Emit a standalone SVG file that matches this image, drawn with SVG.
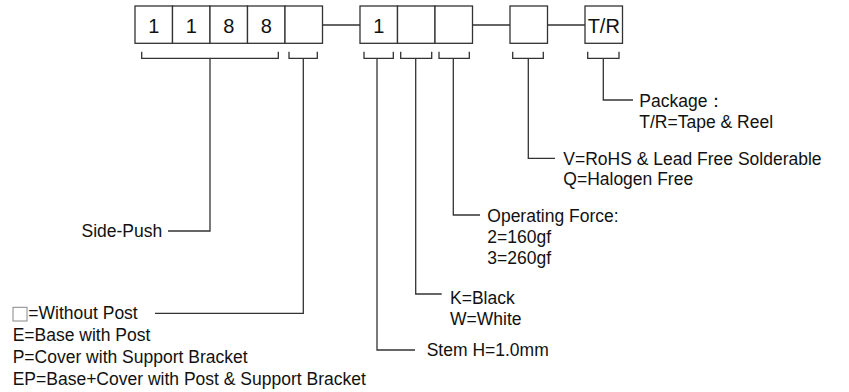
<svg xmlns="http://www.w3.org/2000/svg" width="849" height="392" viewBox="0 0 849 392">
<style>
.box{fill:#fff;stroke:#333;stroke-width:1.3}
.ln{fill:none;stroke:#333;stroke-width:1.3}
.bt{font-family:"Liberation Sans",Arial,sans-serif;font-size:20px;fill:#111;text-anchor:middle}
.lb{font-family:"Liberation Sans",Arial,sans-serif;font-size:17.5px;fill:#111}
</style>
<rect width="849" height="392" fill="#fff"/>
<g id="connectors">
<path class="ln" d="M322.5 25H360M472.5 25H510M547.5 25H585"/>
<path class="ln" d="M141.7 51.7V58.3H278.3V51.7M210 58.3V231H168"/>
<path class="ln" d="M289 51.7V58.3H317.3V51.7M303.3 58.3V313.3H155"/>
<path class="ln" d="M364 51.7V58.3H393.3V51.7M377 58.3V350H415"/>
<path class="ln" d="M400.7 51.7V58.3H431.7V51.7M415.7 58.3V294H441.7"/>
<path class="ln" d="M439 51.7V58.3H469.3V51.7M453.3 58.3V215H480"/>
<path class="ln" d="M512.7 51.7V58.3H543.3V51.7M528.3 58.3V158.3H555"/>
<path class="ln" d="M587.7 51.7V58.3H619V51.7M603.3 58.3V100H633"/>
</g>
<g id="box-1a"><rect class="box" x="135" y="6" width="37.5" height="37.3"/><text class="bt" x="153.75" y="33.3">1</text></g>
<g id="box-1b"><rect class="box" x="172.5" y="6" width="37.5" height="37.3"/><text class="bt" x="191.25" y="33.3">1</text></g>
<g id="box-8a"><rect class="box" x="210" y="6" width="37.5" height="37.3"/><text class="bt" x="228.75" y="33.3">8</text></g>
<g id="box-8b"><rect class="box" x="247.5" y="6" width="37.5" height="37.3"/><text class="bt" x="266.25" y="33.3">8</text></g>
<g id="box-post"><rect class="box" x="285" y="6" width="37.5" height="37.3"/></g>
<g id="box-stem"><rect class="box" x="360" y="6" width="37.5" height="37.3"/><text class="bt" x="378.75" y="33.3">1</text></g>
<g id="box-color"><rect class="box" x="397.5" y="6" width="37.5" height="37.3"/></g>
<g id="box-force"><rect class="box" x="435" y="6" width="37.5" height="37.3"/></g>
<g id="box-rohs"><rect class="box" x="510" y="6" width="37.5" height="37.3"/></g>
<g id="box-pkg"><rect class="box" x="585" y="6" width="37.5" height="37.3"/><text class="bt" x="603.75" y="33.3">T/R</text></g>
<g id="label-sidepush"><text class="lb" x="81.5" y="236.5">Side-Push</text></g>
<g id="label-post">
<rect x="13" y="307.3" width="14" height="13.7" fill="#fff" stroke="#888" stroke-width="1"/>
<text class="lb" x="28.3" y="319.3">=Without Post</text>
<text class="lb" x="12.7" y="341.3">E=Base with Post</text>
<text class="lb" x="12.7" y="363">P=Cover with Support Bracket</text>
<text class="lb" x="12.7" y="384.8">EP=Base+Cover with Post &amp; Support Bracket</text>
</g>
<g id="label-stem"><text class="lb" x="426.7" y="355.5">Stem H=1.0mm</text></g>
<g id="label-color"><text class="lb" x="450" y="303.5">K=Black</text><text class="lb" x="450" y="325">W=White</text></g>
<g id="label-force"><text class="lb" x="487.3" y="222.3">Operating Force:</text><text class="lb" x="487.3" y="243.3">2=160gf</text><text class="lb" x="487.3" y="264.3">3=260gf</text></g>
<g id="label-rohs"><text class="lb" x="563.3" y="165">V=RoHS &amp; Lead Free Solderable</text><text class="lb" x="563.3" y="184.5">Q=Halogen Free</text></g>
<g id="label-pkg"><text class="lb" x="639.3" y="106.7">Package：</text><text class="lb" x="639.3" y="128">T/R=Tape &amp; Reel</text></g>
</svg>
